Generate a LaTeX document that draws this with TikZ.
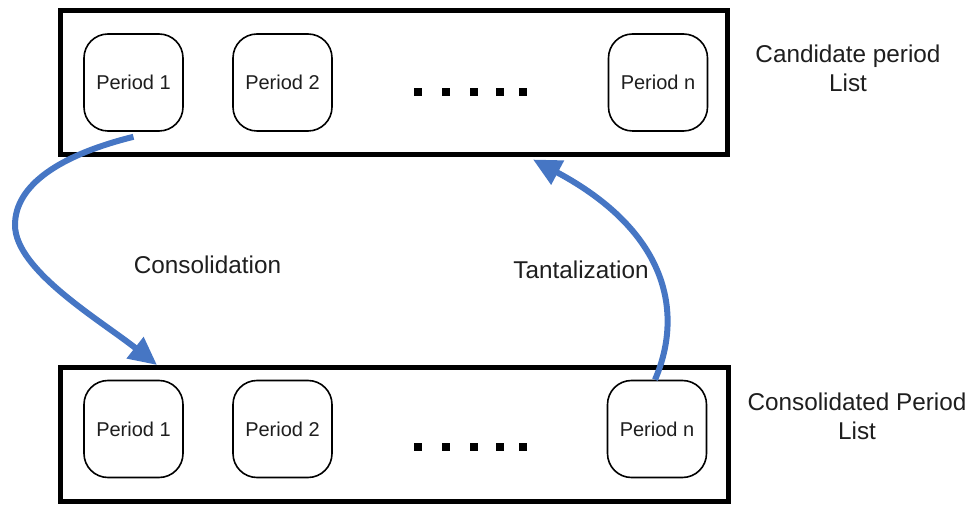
\documentclass[tikz,border=0pt]{standalone}
\usepackage{fontspec}
\setmainfont{Liberation Sans}
\usetikzlibrary{arrows.meta,calc}
\definecolor{flowblue}{RGB}{70,118,196}
\definecolor{ink}{RGB}{30,30,30}
\begin{document}
\begin{tikzpicture}[x=1pt,y=-1pt,
  listbox/.style={draw=black,line width=5pt,minimum width=667pt,minimum height=144pt,inner sep=0pt},
  periodbox/.style={draw=black,line width=1.6pt,rounded corners=24pt,minimum width=99pt,minimum height=97pt,
    inner sep=0pt,text=ink,font=\fontsize{20}{24}\selectfont},
  sidelabel/.style={align=center,text=ink,font=\fontsize{24.3}{29}\selectfont},
  flowlabel/.style={text=ink,font=\fontsize{24.3}{29}\selectfont},
  flow/.style={draw=flowblue,line width=6pt,-{Triangle[length=28pt,width=26pt]}},
  dot/.style={fill=black,minimum size=8pt,inner sep=0pt}]
\useasboundingbox (0,0) rectangle (972,510);

% list frames
\node[listbox] (top) at (394,82.5) {};
\node[listbox,minimum width=668pt,minimum height=134pt] (bot) at (394.5,434.5) {};

% candidate periods
\node[periodbox] (p1t) at (133.5,82.5) {Period 1};
\node[periodbox] (p2t) at (282.5,82.5) {Period 2};
\node[periodbox] (pnt) at (658,82.5) {Period n};
\foreach \x [count=\i] in {418,446,474,500,523}
  \node[dot] (dt\i) at (\x,92) {};

% consolidated periods
\node[periodbox] (p1b) at (133.5,429) {Period 1};
\node[periodbox] (p2b) at (282.5,429) {Period 2};
\node[periodbox] (pnb) at (657,429) {Period n};
\foreach \x [count=\i] in {418,446,474,500,523}
  \node[dot] (db\i) at (\x,447) {};

% side captions
\node[sidelabel] (capt) at (848,68.5) {Candidate period\\List};
\node[sidelabel] (capb) at (857,416.5) {Consolidated Period\\List};

% transitions
\draw[flow] ([yshift=-5pt]p1t.south) .. controls (60,155) and (15,185) .. (15,225)
  .. controls (15,270) and (100,320) .. ([xshift=-237.5pt]bot.north);
\draw[flow] ([xshift=-2pt]pnb.north) .. controls (685,310) and (665,230) .. ([xshift=139pt,yshift=-2.5pt]top.south);

\node[flowlabel] (lcons) at (207.5,265) {Consolidation};
\node[flowlabel] (ltant) at (581,270) {Tantalization};
\end{tikzpicture}
\end{document}
